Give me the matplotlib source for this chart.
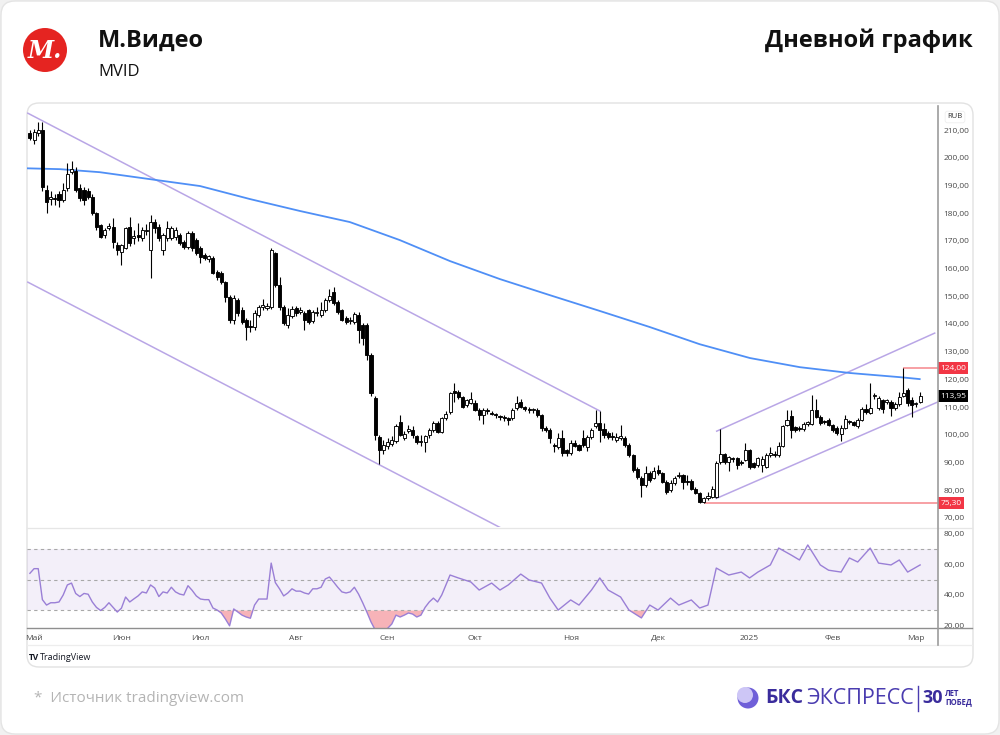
import numpy as np
import matplotlib
matplotlib.use("Agg")
import matplotlib.pyplot as plt
from matplotlib.patches import FancyBboxPatch, Circle
from matplotlib.lines import Line2D
from matplotlib.transforms import blended_transform_factory

plt.rcParams["font.family"] = ["Open Sans", "DejaVu Sans"]

# ---- daily candles, MVID (trading-day index 0..214) ----
opens = [
    208.9, 206.4, 209.0, 210.0, 188.3, 185.0, 185.5, 187.0, 184.7, 189.0,
    195.0, 195.3, 189.0, 188.3, 188.0, 185.8, 180.0, 175.7, 172.1, 174.5,
    174.9, 168.5, 166.0, 167.4, 175.0, 171.0, 172.0, 171.0, 173.5, 166.7,
    176.8, 175.0, 166.7, 171.0, 171.0, 171.5, 172.1, 169.6, 167.8, 172.8,
    170.3, 167.4, 164.8, 163.5, 163.8, 158.8, 158.4, 155.1, 149.7, 141.4,
    148.6, 145.0, 141.4, 139.3, 138.9, 143.2, 146.3, 145.8, 146.1, 165.6,
    154.0, 146.1, 139.6, 142.8, 145.7, 144.5, 144.0, 145.0, 141.0, 144.0,
    143.2, 145.0, 148.6, 151.5, 147.9, 145.0, 142.1, 141.0, 140.7, 143.2,
    139.6, 139.6, 128.8, 113.2, 99.1, 94.5, 96.0, 96.8, 97.7, 104.5,
    98.9, 101.5, 101.7, 99.5, 97.3, 97.4, 99.9, 101.7, 104.2, 101.0,
    106.0, 108.1, 115.4, 115.4, 113.6, 110.7, 111.5, 111.5, 109.0, 107.1,
    108.6, 108.0, 107.2, 106.5, 106.3, 106.0, 106.0, 109.5, 111.9, 110.0,
    109.0, 108.9, 108.9, 107.1, 102.4, 101.7, 96.3, 95.6, 98.9, 94.5,
    93.4, 97.0, 96.3, 98.9, 95.6, 99.1, 103.0, 104.2, 102.0, 100.6,
    99.4, 98.0, 99.0, 98.9, 96.3, 92.7, 87.6, 84.4, 81.8, 86.2,
    84.4, 87.3, 86.2, 83.0, 80.2, 82.6, 85.2, 85.5, 83.4, 83.3,
    80.5, 79.0, 75.7, 77.0, 77.7, 77.7, 90.0, 93.0, 90.0, 91.2,
    91.5, 90.3, 91.0, 94.5, 89.7, 89.0, 89.0, 88.5, 92.8, 93.0,
    92.6, 95.9, 103.4, 106.7, 102.7, 102.3, 102.1, 104.0, 104.0, 109.0,
    106.5, 104.8, 105.3, 103.4, 102.4, 100.4, 102.6, 105.0, 104.6, 103.1,
    105.3, 109.4, 108.0, 114.0, 109.7, 112.5, 112.0, 112.0, 109.8, 111.0,
    114.0, 116.1, 112.7, 111.2, 112.0,
]
highs = [
    210.0, 210.5, 212.9, 212.9, 190.0, 188.0, 187.0, 188.0, 191.0, 198.0,
    199.0, 196.5, 190.5, 189.5, 189.0, 187.0, 180.5, 176.0, 174.5, 176.5,
    178.2, 169.5, 169.0, 175.0, 178.6, 174.0, 176.5, 175.0, 176.0, 179.3,
    178.0, 176.0, 173.0, 177.0, 175.5, 175.0, 173.0, 170.5, 173.5, 173.5,
    171.0, 168.0, 165.5, 165.0, 164.5, 159.5, 159.0, 155.5, 150.5, 150.5,
    149.5, 146.0, 142.0, 141.4, 145.0, 147.0, 149.0, 147.5, 167.4, 166.0,
    157.0, 147.0, 145.7, 146.5, 146.5, 146.0, 144.8, 145.5, 145.0, 146.0,
    147.9, 149.5, 152.5, 153.2, 148.5, 145.5, 143.0, 142.5, 144.5, 144.5,
    140.5, 140.5, 129.5, 114.0, 100.0, 98.0, 99.0, 99.5, 104.0, 107.0,
    101.5, 103.5, 103.0, 100.0, 100.0, 100.0, 102.5, 105.0, 105.0, 106.5,
    108.5, 115.5, 118.7, 116.0, 114.0, 113.0, 115.4, 112.5, 109.5, 109.5,
    109.5, 108.5, 108.0, 107.3, 107.0, 106.5, 109.5, 114.0, 113.0, 110.5,
    110.0, 109.8, 109.5, 107.5, 103.0, 102.3, 97.0, 100.5, 101.7, 95.0,
    98.0, 98.0, 96.8, 101.7, 100.0, 102.5, 108.9, 108.6, 104.2, 101.5,
    101.0, 100.5, 103.5, 99.5, 97.0, 93.0, 88.5, 85.0, 88.9, 87.0,
    88.3, 89.0, 86.5, 83.5, 83.5, 85.0, 86.5, 86.0, 85.5, 84.0,
    81.0, 79.5, 77.5, 79.5, 81.5, 90.5, 102.0, 93.5, 92.5, 92.0,
    92.0, 91.0, 97.0, 95.0, 90.0, 92.0, 92.5, 93.5, 95.5, 94.0,
    97.5, 103.5, 108.9, 108.9, 103.0, 103.0, 104.5, 105.0, 114.3, 113.0,
    107.0, 105.5, 106.0, 104.0, 103.0, 103.4, 107.1, 105.5, 105.0, 106.0,
    110.0, 111.1, 118.7, 115.0, 114.0, 113.0, 113.0, 112.5, 112.0, 115.4,
    124.0, 117.0, 113.5, 112.0, 115.5,
]
lows = [
    206.4, 205.0, 208.0, 188.0, 180.0, 183.0, 183.0, 182.2, 184.0, 188.0,
    194.0, 187.5, 184.5, 183.0, 185.0, 179.5, 174.0, 171.0, 171.0, 174.0,
    167.4, 165.0, 161.3, 167.0, 168.0, 169.0, 170.0, 170.0, 172.0, 156.5,
    173.0, 170.0, 165.0, 170.0, 170.5, 170.5, 168.5, 167.0, 167.0, 166.5,
    165.0, 162.0, 163.0, 162.5, 158.0, 156.0, 154.5, 148.0, 140.5, 140.0,
    143.0, 140.0, 134.2, 137.0, 138.0, 142.5, 145.0, 145.0, 145.5, 153.5,
    145.0, 139.5, 138.5, 142.0, 143.0, 143.5, 137.8, 140.0, 140.5, 143.0,
    142.5, 144.5, 148.0, 147.0, 143.5, 141.0, 140.0, 140.0, 140.0, 133.0,
    132.3, 126.9, 114.0, 98.0, 89.5, 93.0, 95.0, 96.0, 97.0, 99.5,
    98.0, 100.5, 99.0, 96.5, 96.0, 93.7, 99.0, 101.0, 100.5, 100.5,
    105.5, 107.5, 112.0, 113.0, 109.5, 110.0, 111.0, 108.5, 105.3, 104.0,
    107.5, 107.0, 106.0, 105.5, 105.0, 103.5, 105.5, 109.0, 109.5, 108.5,
    108.0, 108.0, 106.5, 101.5, 101.0, 97.0, 93.7, 95.0, 92.5, 92.5,
    92.8, 95.5, 94.0, 95.5, 94.0, 98.5, 102.5, 97.5, 99.0, 98.5,
    98.0, 97.5, 98.0, 95.5, 92.0, 86.5, 84.0, 77.5, 81.0, 83.0,
    84.0, 85.5, 82.5, 78.5, 79.5, 82.0, 84.5, 80.5, 82.0, 80.0,
    78.5, 75.3, 75.3, 76.5, 77.0, 77.2, 89.5, 89.5, 87.0, 90.0,
    87.8, 89.0, 90.5, 87.5, 88.0, 88.5, 86.5, 88.0, 92.0, 92.0,
    92.0, 95.5, 103.0, 98.8, 101.0, 101.5, 101.5, 103.0, 103.5, 106.0,
    103.5, 104.0, 103.0, 101.0, 100.0, 97.9, 102.0, 104.0, 103.0, 102.5,
    105.0, 107.5, 107.5, 113.0, 109.0, 108.0, 111.0, 106.6, 109.0, 110.5,
    113.5, 110.5, 106.3, 110.0, 111.5,
]
closes = [
    207.1, 209.3, 210.0, 189.4, 184.0, 186.0, 185.0, 184.7, 188.3, 194.0,
    196.0, 188.3, 185.5, 184.7, 186.0, 180.2, 175.0, 171.4, 173.9, 175.5,
    169.6, 166.7, 168.5, 174.6, 169.2, 171.8, 171.5, 174.0, 174.0, 176.8,
    174.6, 171.0, 172.0, 174.5, 174.6, 173.9, 169.2, 167.8, 172.8, 167.4,
    165.6, 164.2, 164.0, 164.5, 158.4, 157.0, 155.1, 149.7, 141.4, 149.3,
    144.0, 140.7, 138.9, 139.0, 143.9, 146.1, 146.6, 146.6, 166.7, 154.0,
    146.1, 140.3, 143.2, 145.4, 143.9, 144.6, 141.4, 140.7, 144.3, 144.0,
    145.0, 148.6, 150.0, 147.5, 144.3, 141.4, 140.7, 141.4, 143.6, 137.8,
    134.9, 128.8, 115.0, 99.8, 94.5, 96.3, 97.5, 98.1, 103.3, 100.0,
    100.3, 101.8, 99.8, 97.5, 97.5, 99.4, 101.7, 104.2, 101.0, 106.0,
    107.4, 115.0, 115.2, 113.6, 110.0, 112.5, 112.9, 109.0, 107.1, 108.9,
    108.5, 107.5, 107.0, 106.3, 106.0, 105.4, 108.9, 111.5, 110.0, 109.3,
    108.9, 109.0, 107.1, 102.4, 101.7, 98.9, 96.0, 98.9, 93.4, 93.4,
    97.0, 95.9, 94.5, 96.3, 99.1, 101.7, 104.2, 101.7, 99.8, 99.1,
    99.1, 99.1, 99.4, 96.3, 92.7, 87.3, 84.7, 81.8, 86.2, 83.6,
    86.9, 86.2, 83.0, 79.3, 82.5, 84.4, 85.4, 82.8, 82.8, 80.5,
    79.0, 75.7, 77.2, 78.0, 80.5, 89.8, 93.0, 90.0, 92.0, 91.1,
    89.0, 89.8, 94.5, 88.5, 88.5, 91.5, 91.2, 92.7, 93.1, 92.6,
    95.8, 103.1, 105.3, 101.7, 101.7, 102.1, 104.0, 104.1, 109.0, 106.5,
    104.2, 104.6, 103.4, 101.7, 100.6, 102.6, 105.6, 104.6, 103.4, 105.3,
    109.4, 108.2, 109.8, 114.3, 113.1, 109.4, 112.2, 109.8, 111.2, 113.6,
    115.2, 111.3, 110.7, 111.5, 113.95,
]

# RSI(14): one value per candle for the first 100 days, then read at sparser points
rsi_head = [
    54, 57, 57, 37, 33.5, 35, 35, 35.5, 40, 46.5,
    47.7, 41, 39, 41, 40.5, 35.5, 32, 30, 32, 35,
    32, 29, 31.5, 38.7, 35.5, 37.5, 39.4, 42, 41.3, 46.5,
    44.5, 39, 42, 41.3, 45, 42, 40.6, 40, 46, 43,
    39.4, 37.4, 37, 37, 31.6, 30.3, 28.4, 24.5, 20.1, 31,
    29, 27, 25.8, 25, 33.5, 37.4, 37.4, 37.4, 60.6, 48,
    44, 39.4, 41.3, 44, 42.5, 42.5, 41.3, 40.6, 44, 44,
    45, 50.3, 51.6, 48.4, 45, 42, 41.3, 42, 45, 40.6,
    35, 29, 22.6, 17.5, 16.5, 17, 18.5, 21.3, 27, 25.8,
    27, 28.4, 27.7, 25.8, 27, 32, 35.5, 38, 35.5, 40,
]
rsi_tail_idx = [101, 103, 106, 108, 111, 113, 115, 118, 120, 123,
                125, 127, 130, 132, 135, 137, 139, 142, 144, 147,
                149, 151, 154, 156, 159, 161, 163, 165, 168, 171,
                173, 175, 178, 180, 183, 185, 187, 190, 192, 195,
                197, 199, 202, 204, 207, 209, 211, 214]
rsi_tail_val = [52.9, 51, 48.4, 43.2, 47.7, 43.2, 46.5, 53.5, 49.7, 47.7,
                38, 30.3, 36.8, 33.5, 43.2, 51, 43.2, 38.7, 30.3, 25.2,
                33.5, 30.3, 38, 33.5, 36.8, 31.6, 33.5, 57.4, 52.9, 54.8,
                51, 54.8, 59.4, 70.3, 65.8, 62.6, 72.3, 59.4, 56, 54.8,
                63.9, 61.3, 70.3, 60.6, 59.4, 62.6, 54.8, 59.4]

# 200-day moving average
sma_idx = [-0.7, 7.2, 16.8, 28.8, 40.9, 52.9, 64.9, 76.9, 88.9, 101,
           113, 125, 137, 149, 161, 173.1, 185.1, 197.1, 209.1, 213.9]
sma_val = [196.2, 195.9, 194.8, 192.3, 189.8, 185.1, 180.8, 176.8, 170.3, 162.7,
           156.2, 150.4, 144.7, 138.9, 132.7, 127.7, 124.4, 122.3, 120.8, 120.1]

# trend channels (index, price) endpoints
down_upper = ([-0.5, 137.0], [216.1, 108.6])
down_lower = ([-0.5, 127.4], [155.1, 55.3])
up_lower = ([165.0, 218.8], [77.0, 112.2])
up_upper = ([165.1, 217.5], [101.3, 136.7])

support_level, support_from = 75.30, 162
resist_level, resist_from = 124.00, 210
last_price = 113.95

month_pos = [1, 22, 41, 64, 86, 107, 130, 151, 173, 193, 213]
month_labels = ["Май", "Июн", "Июл", "Авг", "Сен", "Окт", "Ноя", "Дек", "2025", "Фев", "Мар"]
price_ticks = list(range(70, 211, 10))
rsi_ticks = [20, 40, 60, 80]

W, H = 1000, 735


def fx(px):
    return px / W


def fy(py):
    return 1 - py / H


def inch(px, py):
    return px / 100, (H - py) / 100


def fmt(v):
    return f"{v:.2f}".replace(".", ",")


fig = plt.figure(figsize=(10, 7.35), dpi=100)
fig.patch.set_facecolor("#f1f1f1")

# outer card and chart card (behind the axes)
x0, y0 = inch(1, 734)
fig.add_artist(FancyBboxPatch((x0, y0), 9.98, 7.33, boxstyle="round,pad=0,rounding_size=0.14",
                              transform=fig.dpi_scale_trans, facecolor="white",
                              edgecolor="#e4e4e4", linewidth=1.0, zorder=-10))
x0, y0 = inch(27, 667)
fig.add_artist(FancyBboxPatch((x0, y0), 9.46, 5.64, boxstyle="round,pad=0,rounding_size=0.12",
                              transform=fig.dpi_scale_trans, facecolor="white",
                              edgecolor="#e2e2e2", linewidth=1.0, zorder=-9))

ax = fig.add_axes([fx(27), fy(527), fx(938) - fx(27), (527 - 106) / H])
ax_rsi = fig.add_axes([fx(27), fy(628), fx(938) - fx(27), (628 - 529) / H])
xlim = (-0.7, 218.3)

o = np.array(opens)
h = np.array(highs)
l = np.array(lows)
c = np.array(closes)
idx = np.arange(len(o))
up = c >= o

# channels, averages, levels
lav = "#b9a6e6"
for xs, ys in (down_upper, down_lower, up_lower, up_upper):
    ax.plot(xs, ys, color=lav, lw=1.1, zorder=1)
ax.plot(sma_idx, sma_val, color="#4f8ff6", lw=1.3, zorder=2, solid_joinstyle="round")
ax.hlines(support_level, support_from, xlim[1], color="#f5868c", lw=1.1, zorder=2)
ax.hlines(resist_level, resist_from, xlim[1], color="#f5868c", lw=1.1, zorder=2)

# candles
ax.vlines(idx, l, h, color="black", lw=0.8, zorder=3)
body_lo = np.minimum(o, c)
body_h = np.maximum(np.abs(c - o), 0.45)
ax.bar(idx, body_h, bottom=body_lo, width=0.74,
       color=np.where(up, "white", "black"), edgecolor="black", linewidth=0.65, zorder=4)

ax.set_xlim(*xlim)
ax.set_ylim(66.7, 218.7)
ax.set_facecolor("none")
for s in ax.spines.values():
    s.set_visible(False)
ax.set_xticks([])
ax.yaxis.tick_right()
ax.set_yticks(price_ticks)
ax.set_yticklabels([fmt(v) for v in price_ticks])
ax.tick_params(axis="y", length=0, pad=4, labelsize=6, labelcolor="#4a4a4a")

tr = blended_transform_factory(ax.transAxes, ax.transData)
for val, bg in ((resist_level, "#f23645"), (last_price, "#000000"), (support_level, "#f23645")):
    ax.text(1.0025, val, fmt(val), transform=tr, ha="left", va="center", fontsize=6,
            color="white", clip_on=False, zorder=6,
            bbox=dict(boxstyle="square,pad=0.28", fc=bg, ec="none"))

# RSI pane
rsi_i = np.concatenate([np.arange(len(rsi_head)), rsi_tail_idx]).astype(float)
rsi_v = np.array(rsi_head + rsi_tail_val, dtype=float)
ax_rsi.axhspan(30, 70, color="#7e57c2", alpha=0.09, lw=0)
for lv in (70, 50, 30):
    ax_rsi.axhline(lv, color="#a8a8a8", lw=0.8, dashes=(3, 3))
ax_rsi.fill_between(rsi_i, rsi_v, 30, where=rsi_v < 30, interpolate=True,
                    color="#f59aa0", alpha=0.75, lw=0)
ax_rsi.plot(rsi_i, rsi_v, color="#9a7fd6", lw=1.0)
ax_rsi.set_xlim(*xlim)
ax_rsi.set_ylim(18.7, 82.6)
ax_rsi.set_facecolor("none")
for s in ax_rsi.spines.values():
    s.set_visible(False)
ax_rsi.yaxis.tick_right()
ax_rsi.set_yticks(rsi_ticks)
ax_rsi.set_yticklabels([fmt(v) for v in rsi_ticks])
ax_rsi.tick_params(axis="y", length=0, pad=4, labelsize=6, labelcolor="#4a4a4a")
ax_rsi.set_xticks(month_pos)
ax_rsi.set_xticklabels(month_labels)
ax_rsi.tick_params(axis="x", length=0, pad=5, labelsize=6, labelcolor="#4a4a4a")

# pane borders
fig.add_artist(Line2D([fx(27), fx(972)], [fy(528), fy(528)], color="#e6e6e6", lw=0.9))
fig.add_artist(Line2D([fx(27), fx(972)], [fy(628), fy(628)], color="#8f8f8f", lw=1.0))
fig.add_artist(Line2D([fx(27), fx(972)], [fy(645), fy(645)], color="#ededed", lw=0.9))
fig.add_artist(Line2D([fx(938), fx(938)], [fy(106), fy(645)], color="#9c9c9c", lw=1.2))
fig.text(fx(955), fy(117), "RUB", fontsize=5.5, ha="center", va="center", color="#333333",
         bbox=dict(boxstyle="round,pad=0.3", fc="white", ec="#eeeeee", lw=0.6))

# TradingView mark
fig.text(fx(29), fy(657), "TV", fontsize=6, fontweight="bold", ha="left", va="center", color="#131722")
fig.text(fx(40), fy(657), "TradingView", fontsize=6.5, ha="left", va="center", color="#131722")

# header
cx, cy = inch(45, 50)
fig.add_artist(Circle((cx, cy), 0.22, transform=fig.dpi_scale_trans, facecolor="#e52421", edgecolor="none"))
fig.text(fx(45), fy(51), "М.", fontsize=17, fontweight="bold", fontstyle="italic",
         family=["DejaVu Serif"], color="white", ha="center", va="center")
fig.text(fx(98), fy(41), "М.Видео", fontsize=17, fontweight="bold", ha="left", va="center", color="#111111")
fig.text(fx(98), fy(72), "MVID", fontsize=12, ha="left", va="center", color="#111111")
fig.text(fx(973), fy(41), "Дневной график", fontsize=17, fontweight="bold", ha="right", va="center",
         color="#111111")

# footer
fig.text(fx(34), fy(699), "*  Источник tradingview.com", fontsize=11, ha="left", va="center", color="#b4b4b4")
bx, by = inch(748, 698)
fig.add_artist(Circle((bx, by), 0.105, transform=fig.dpi_scale_trans, facecolor="#6f5fd8", edgecolor="none"))
bx2, by2 = inch(745, 695)
fig.add_artist(Circle((bx2, by2), 0.08, transform=fig.dpi_scale_trans, facecolor="#cdc6f6", edgecolor="none"))
fig.text(fx(765), fy(698), "БКС", fontsize=14, fontweight="bold", ha="left", va="center", color="#3a2c9c")
fig.text(fx(806), fy(698), "ЭКСПРЕСС", fontsize=15.5, ha="left", va="center", color="#4a3cb0")
fig.add_artist(Line2D([fx(918), fx(918)], [fy(686), fy(711)], color="#4a3cb0", lw=1.0))
fig.text(fx(922), fy(698), "30", fontsize=13, fontweight="bold", ha="left", va="center", color="#3a2c9c")
fig.text(fx(945), fy(693), "ЛЕТ", fontsize=5.5, fontweight="bold", ha="left", va="center", color="#3a2c9c")
fig.text(fx(945), fy(702), "ПОБЕД", fontsize=5.5, fontweight="bold", ha="left", va="center", color="#3a2c9c")

fig.savefig("out.png", dpi=100)
